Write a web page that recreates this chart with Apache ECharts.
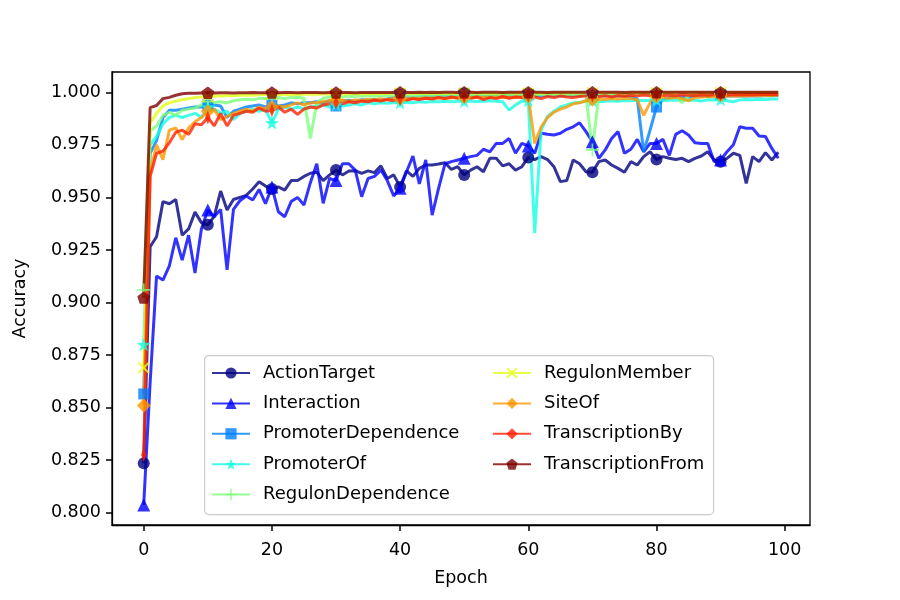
<!DOCTYPE html>
<html>
<head>
<meta charset="utf-8">
<script src="https://cdn.jsdelivr.net/npm/echarts@6/dist/echarts.min.js"></script>
<style>
  html, body { margin: 0; padding: 0; background: #fff; }
  #chart { width: 900px; height: 600px; }
</style>
</head>
<body>
<div id="chart"></div>
<script>
// epochs 0..99
const epochs = Array.from({ length: 100 }, (_, i) => i)
const xTicks = [0, 20, 40, 60, 80, 100]
const yTicks = [0.8, 0.825, 0.85, 0.875, 0.9, 0.925, 0.95, 0.975, 1.0]

const names = ['ActionTarget', 'Interaction', 'PromoterDependence', 'PromoterOf', 'RegulonDependence',
    'RegulonMember', 'SiteOf', 'TranscriptionBy', 'TranscriptionFrom']

const actionTarget = [
    0.8235, 0.9265, 0.9313, 0.948, 0.947, 0.949, 0.932, 0.935, 0.943, 0.938,
    0.937, 0.941, 0.953, 0.944, 0.949, 0.950, 0.951, 0.954, 0.9575, 0.9554,
    0.954, 0.955, 0.9535, 0.958, 0.958, 0.960, 0.9615, 0.962, 0.958, 0.9607,
    0.963, 0.9607, 0.9626, 0.9627, 0.9614, 0.9626, 0.9618, 0.965, 0.959, 0.9607,
    0.955, 0.9626, 0.960, 0.9638, 0.9654, 0.9654, 0.9659, 0.9665, 0.9633, 0.9646,
    0.9607, 0.963, 0.9646, 0.9622, 0.9686, 0.9686, 0.965, 0.966, 0.963, 0.9646,
    0.969, 0.968, 0.9694, 0.968, 0.9646, 0.9575, 0.958, 0.9678, 0.966, 0.9622,
    0.962, 0.967, 0.9678, 0.9654, 0.9638, 0.962, 0.967, 0.9654, 0.9694, 0.9717,
    0.968, 0.9694, 0.9686, 0.968, 0.9686, 0.967, 0.9686, 0.9697, 0.9717, 0.9678,
    0.967, 0.9686, 0.971, 0.970, 0.9567, 0.9694, 0.967, 0.9713, 0.9678, 0.9715
]
const interaction = [
    0.8037, 0.862, 0.9126, 0.9107, 0.9174, 0.9308, 0.9202, 0.932, 0.914, 0.935,
    0.944, 0.9408, 0.9443, 0.9155, 0.9443, 0.9484, 0.9507, 0.9488, 0.9538, 0.947,
    0.955, 0.9432, 0.9408, 0.948, 0.950, 0.9464, 0.957, 0.966, 0.9472, 0.959,
    0.958, 0.966, 0.966, 0.963, 0.9503, 0.959, 0.960, 0.963, 0.958, 0.9507,
    0.9543, 0.9622, 0.9697, 0.9564, 0.9678, 0.9416, 0.9543, 0.966, 0.967, 0.9678,
    0.9686, 0.9694, 0.970, 0.9729, 0.9717, 0.9757, 0.9757, 0.978, 0.971, 0.9757,
    0.9745, 0.971, 0.9805, 0.980, 0.9797, 0.9805, 0.9824, 0.9836, 0.9855, 0.9813,
    0.9765, 0.9686, 0.9726, 0.978, 0.9813, 0.971, 0.9729, 0.9776, 0.9717, 0.9757,
    0.9757, 0.9776, 0.970, 0.980, 0.9817, 0.9797, 0.976, 0.9757, 0.9757, 0.967,
    0.9678, 0.9717, 0.975, 0.9836, 0.9829, 0.9829, 0.9792, 0.979, 0.9733, 0.9686
]
const promoterDependence = [
    0.8565, 0.9710, 0.9770, 0.9880, 0.9915, 0.9915, 0.9920, 0.9925, 0.9930, 0.9930,
    0.9940, 0.9940, 0.9935, 0.9880, 0.9910, 0.9920, 0.9930, 0.9935, 0.9940, 0.9930,
    0.9940, 0.9935, 0.9940, 0.9950, 0.9945, 0.9950, 0.9950, 0.9955, 0.9950, 0.9960,
    0.9935, 0.9960, 0.9962, 0.9958, 0.9965, 0.9962, 0.9966, 0.9964, 0.9968, 0.9975,
    0.9990, 0.9978, 0.9975, 0.9978, 0.9980, 0.9978, 0.9982, 0.9980, 0.9983, 0.9985,
    0.9995, 0.9984, 0.9985, 0.9983, 0.9985, 0.9984, 0.9986, 0.9985, 0.9986, 0.9987,
    0.9990, 0.9985, 0.9984, 0.9985, 0.9984, 0.9985, 0.9986, 0.9985, 0.9986, 0.9985,
    0.9985, 0.9984, 0.9985, 0.9984, 0.9982, 0.9980, 0.9978, 0.9970, 0.9717, 0.9820,
    0.9930, 0.9965, 0.9975, 0.9978, 0.9980, 0.9978, 0.9981, 0.9982, 0.9981, 0.9982,
    0.9990, 0.9982, 0.9983, 0.9982, 0.9983, 0.9984, 0.9983, 0.9984, 0.9984, 0.9985
]
const promoterOf = [
    0.880, 0.9750, 0.9790, 0.9850, 0.9880, 0.9890, 0.9880, 0.9890, 0.9900, 0.9880,
    0.9930, 0.9920, 0.9900, 0.9910, 0.9870, 0.9900, 0.9910, 0.9920, 0.9910, 0.9920,
    0.9855, 0.9920, 0.9930, 0.9920, 0.9930, 0.9920, 0.9930, 0.9935, 0.9940, 0.9930,
    0.9940, 0.9935, 0.9940, 0.9945, 0.9940, 0.9950, 0.9945, 0.9950, 0.9948, 0.9952,
    0.9950, 0.9953, 0.9950, 0.9955, 0.9953, 0.9956, 0.9955, 0.9957, 0.9955, 0.9958,
    0.9957, 0.9958, 0.9956, 0.9958, 0.9960, 0.9958, 0.9955, 0.9915, 0.9940, 0.9958,
    0.9960, 0.9330, 0.9820, 0.9885, 0.9910, 0.9930, 0.9940, 0.9950, 0.9952, 0.9958,
    0.9960, 0.9955, 0.9958, 0.9960, 0.9958, 0.9961, 0.9960, 0.9962, 0.9960, 0.9962,
    0.9963, 0.9962, 0.9963, 0.9962, 0.9964, 0.9963, 0.9962, 0.9958, 0.9964, 0.9963,
    0.9965, 0.9960, 0.9955, 0.9964, 0.9966, 0.9965, 0.9967, 0.9966, 0.9968, 0.9968
]
const regulonDependence = [
    0.906, 0.9815, 0.9840, 0.9890, 0.9905, 0.9890, 0.9915, 0.9920, 0.9925, 0.9940,
    0.9955, 0.9950, 0.9955, 0.9950, 0.9960, 0.9965, 0.9967, 0.9965, 0.9970, 0.9970,
    0.9972, 0.9975, 0.9970, 0.9975, 0.9976, 0.9972, 0.9780, 0.9950, 0.9972, 0.9978,
    0.9980, 0.9978, 0.9982, 0.9980, 0.9983, 0.9982, 0.9984, 0.9983, 0.9985, 0.9984,
    0.9985, 0.9984, 0.9986, 0.9985, 0.9986, 0.9987, 0.9986, 0.9987, 0.9988, 0.9987,
    0.9988, 0.9987, 0.9988, 0.9989, 0.9988, 0.9989, 0.9988, 0.9989, 0.9990, 0.9989,
    0.9990, 0.9989, 0.9990, 0.9990, 0.9991, 0.9990, 0.9991, 0.9990, 0.9991, 0.9985,
    0.9726, 0.9985, 0.9990, 0.9991, 0.9990, 0.9991, 0.9992, 0.9991, 0.9992, 0.9991,
    0.9992, 0.9992, 0.9991, 0.9985, 0.9950, 0.9985, 0.9992, 0.9993, 0.9992, 0.9993,
    0.9993, 0.9993, 0.9992, 0.9993, 0.9994, 0.9993, 0.9994, 0.9993, 0.9994, 0.9994
]
const regulonMember = [
    0.869, 0.9855, 0.9900, 0.9935, 0.9950, 0.9958, 0.9965, 0.9970, 0.9975, 0.9978,
    0.9980, 0.9982, 0.9983, 0.9985, 0.9984, 0.9986, 0.9987, 0.9986, 0.9988, 0.9989,
    0.9989, 0.9990, 0.9990, 0.9991, 0.9990, 0.9991, 0.9992, 0.9991, 0.9992, 0.9992,
    0.9993, 0.9992, 0.9993, 0.9993, 0.9994, 0.9993, 0.9994, 0.9994, 0.9994, 0.9995,
    0.9995, 0.9994, 0.9995, 0.9995, 0.9995, 0.9996, 0.9995, 0.9996, 0.9996, 0.9995,
    0.9996, 0.9996, 0.9996, 0.9997, 0.9996, 0.9996, 0.9997, 0.9997, 0.9996, 0.9997,
    0.9997, 0.9997, 0.9996, 0.9997, 0.9997, 0.9997, 0.9998, 0.9997, 0.9997, 0.9998,
    0.9998, 0.9997, 0.9998, 0.9998, 0.9998, 0.9997, 0.9998, 0.9998, 0.9998, 0.9998,
    0.9998, 0.9998, 0.9998, 0.9999, 0.9998, 0.9998, 0.9999, 0.9998, 0.9999, 0.9999,
    0.9999, 0.9999, 0.9998, 0.9999, 0.9999, 0.9999, 0.9999, 0.9999, 0.9999, 0.9999
]
const siteOf = [
    0.851, 0.9620, 0.9750, 0.9680, 0.9820, 0.9830, 0.9775, 0.9830, 0.9860, 0.9880,
    0.9910, 0.9920, 0.9870, 0.9885, 0.9900, 0.9910, 0.9920, 0.9910, 0.9930, 0.9920,
    0.9930, 0.9935, 0.9930, 0.9940, 0.9950, 0.9940, 0.9950, 0.9950, 0.9955, 0.9960,
    0.9960, 0.9962, 0.9958, 0.9964, 0.9962, 0.9966, 0.9965, 0.9968, 0.9966, 0.9970,
    0.9970, 0.9968, 0.9972, 0.9970, 0.9973, 0.9972, 0.9974, 0.9970, 0.9974, 0.9975,
    0.9976, 0.9974, 0.9976, 0.9975, 0.9977, 0.9976, 0.9978, 0.9975, 0.9977, 0.9978,
    0.9980, 0.9757, 0.9835, 0.9880, 0.9905, 0.9920, 0.9930, 0.9945, 0.9950, 0.9960,
    0.9965, 0.9968, 0.9966, 0.9970, 0.9968, 0.9972, 0.9970, 0.9965, 0.9890, 0.9950,
    0.9980, 0.9975, 0.9972, 0.9976, 0.9970, 0.9960, 0.9975, 0.9978, 0.9980, 0.9979,
    0.9985, 0.9982, 0.9983, 0.9984, 0.9983, 0.9985, 0.9984, 0.9986, 0.9985, 0.9987
]
const transcriptionBy = [
    0.8274, 0.9600, 0.9710, 0.9720, 0.9760, 0.9810, 0.9820, 0.9800, 0.9850, 0.9845,
    0.9880, 0.9840, 0.9900, 0.9840, 0.9890, 0.9900, 0.9910, 0.9905, 0.9925, 0.9910,
    0.9915, 0.9930, 0.9905, 0.9920, 0.9895, 0.9920, 0.9930, 0.9925, 0.9940, 0.9945,
    0.9950, 0.9945, 0.9955, 0.9950, 0.9958, 0.9955, 0.9962, 0.9958, 0.9965, 0.9960,
    0.9968, 0.9962, 0.9970, 0.9965, 0.9972, 0.9968, 0.9975, 0.9970, 0.9978, 0.9972,
    0.9980, 0.9972, 0.9978, 0.9965, 0.9975, 0.9970, 0.9980, 0.9972, 0.9978, 0.9975,
    0.9985, 0.9978, 0.9970, 0.9980, 0.9975, 0.9982, 0.9978, 0.9975, 0.9980, 0.9983,
    0.9985, 0.9980, 0.9984, 0.9978, 0.9985, 0.9982, 0.9986, 0.9983, 0.9987, 0.9984,
    0.9988, 0.9985, 0.9987, 0.9984, 0.9988, 0.9986, 0.9985, 0.9988, 0.9986, 0.9989,
    0.9990, 0.9987, 0.9989, 0.9988, 0.9990, 0.9988, 0.9989, 0.9990, 0.9989, 0.9990
]
const transcriptionFrom = [
    0.9023, 0.9927, 0.9937, 0.9970, 0.9976, 0.9986, 0.9993, 0.9995, 0.9996, 0.9997,
    0.9998, 0.9997, 0.9998, 0.9998, 0.9997, 0.9998, 0.9998, 0.9999, 0.9998, 0.9998,
    0.9999, 0.9998, 0.9999, 0.9999, 0.9998, 0.9999, 0.9999, 0.9999, 0.9998, 0.9999,
    0.9999, 0.9999, 0.9999, 0.9998, 0.9999, 0.9999, 0.9999, 0.9999, 0.9999, 0.9999,
    1.0000, 0.9999, 0.9999, 1.0000, 0.9999, 1.0000, 0.9999, 1.0000, 1.0000, 0.9999,
    1.0000, 1.0000, 0.9999, 1.0000, 1.0000, 1.0000, 0.9999, 1.0000, 1.0000, 1.0000,
    1.0000, 1.0000, 1.0000, 0.9999, 1.0000, 1.0000, 1.0000, 1.0000, 1.0000, 1.0000,
    1.0000, 1.0000, 1.0000, 1.0000, 1.0000, 0.9999, 1.0000, 1.0000, 1.0000, 1.0000,
    1.0000, 1.0000, 1.0000, 1.0000, 1.0000, 1.0000, 1.0000, 1.0000, 1.0000, 1.0000,
    1.0000, 1.0000, 1.0000, 1.0000, 1.0000, 1.0000, 1.0000, 1.0000, 1.0000, 1.0000
]
const allValues = [actionTarget, interaction, promoterDependence, promoterOf, regulonDependence,
    regulonMember, siteOf, transcriptionBy, transcriptionFrom]

// jet colormap, 9 steps
const colors = ['#000080', '#0000ff', '#0080ff', '#15ffe2', '#7cff7a', '#e2ff15', '#ff9700', '#ff2100', '#800000']

const STAR = 'path://M0,-10 L2.35,-3.24 L9.51,-3.09 L3.8,1.24 L5.88,8.09 L0,4 L-5.88,8.09 L-3.8,1.24 L-9.51,-3.09 L-2.35,-3.24Z'
const PLUS = 'path://M-1.3,-10 L1.3,-10 L1.3,-1.3 L10,-1.3 L10,1.3 L1.3,1.3 L1.3,10 L-1.3,10 L-1.3,1.3 L-10,1.3 L-10,-1.3 L-1.3,-1.3Z'
const CROSS = 'path://M-8,-6 L-6,-8 L0,-2 L6,-8 L8,-6 L2,0 L8,6 L6,8 L0,2 L-6,8 L-8,6 L-2,0Z'
const THIN_DIAMOND = 'path://M0,-10 L6,0 L0,10 L-6,0Z'
const PENTAGON = 'path://M0,-10 L9.51,-3.09 L5.88,8.09 L-5.88,8.09 L-9.51,-3.09Z'
const symbols = ['circle', 'triangle', 'rect', STAR, PLUS, CROSS, 'diamond', THIN_DIAMOND, PENTAGON]
const symbolSizes = [12, 13, 11, 14, 13, 12, 14, [9, 14], 13]

const FONT = 'DejaVu Sans'

const chart = echarts.init(document.getElementById('chart'))

const series = names.map((name, k) => ({
    name,
    type: 'line',
    symbol: symbols[k],
    symbolSize: symbolSizes[k],
    symbolKeepAspect: true,
    showAllSymbol: true,
    color: colors[k],
    lineStyle: { width: 3, opacity: 0.8 },
    itemStyle: { opacity: 0.8 },
    emphasis: { disabled: true },
    data: allValues[k].map((v, i) => i % 10 === 0 ? [epochs[i], v] : { value: [epochs[i], v], symbol: 'none' })
}))

const legendBase = {
    orient: 'vertical',
    padding: 0,
    itemWidth: 38,
    itemHeight: 14,
    itemGap: 12.4,
    selectedMode: false,
    textStyle: { fontFamily: FONT, fontSize: 18, lineHeight: 18, color: '#000', padding: [0, 0, 0, 8] }
}

const axisLine = { show: true, onZero: false, lineStyle: { color: '#000', width: 1.3 } }
const tickStyle = { color: '#000', width: 1.5 }

chart.setOption({
    animation: false,
    grid: { left: 112, right: 90, top: 72, bottom: 75, show: true, borderColor: '#000', borderWidth: 1.3 },
    xAxis: {
        type: 'value',
        min: -4.95,
        max: 103.95,
        name: 'Epoch',
        nameLocation: 'middle',
        nameGap: 44,
        nameTextStyle: { fontFamily: FONT, fontSize: 17.5, color: '#000' },
        axisLine,
        axisTick: { customValues: xTicks, length: 6, lineStyle: tickStyle },
        axisLabel: { customValues: xTicks, fontFamily: FONT, fontSize: 17.5, color: '#000', margin: 16 },
        splitLine: { show: false }
    },
    yAxis: {
        type: 'value',
        min: 0.79415,
        max: 1.00966,
        name: 'Accuracy',
        nameLocation: 'middle',
        nameGap: 83,
        nameTextStyle: { fontFamily: FONT, fontSize: 17.5, color: '#000' },
        axisLine,
        axisTick: { customValues: yTicks, length: 6, lineStyle: tickStyle },
        axisLabel: { customValues: yTicks, fontFamily: FONT, fontSize: 17.5, color: '#000', margin: 11,
            formatter: v => v.toFixed(3) },
        splitLine: { show: false }
    },
    legend: [
        Object.assign({ data: names.slice(0, 5), left: 211, top: 364 }, legendBase),
        Object.assign({ data: names.slice(5), left: 492, top: 364 }, legendBase)
    ],
    graphic: [{
        type: 'rect',
        left: 204,
        top: 355,
        z: 3,
        shape: { width: 509, height: 159, r: 4 },
        style: { fill: 'rgba(255,255,255,0.8)', stroke: '#cccccc', lineWidth: 1.2 }
    }],
    series
})
</script>
</body>
</html>
